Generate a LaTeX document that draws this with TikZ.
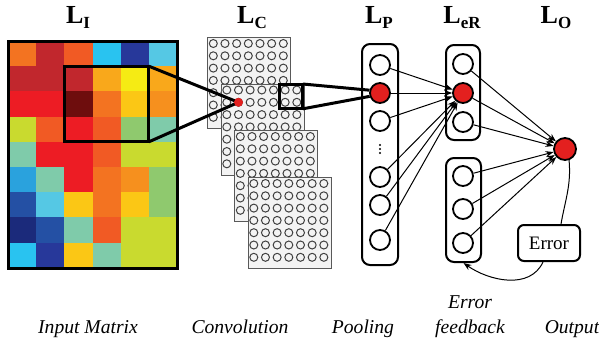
\documentclass[tikz,border=0pt]{standalone}
\usepackage{fontspec}
\setmainfont{Liberation Serif}
\usetikzlibrary{arrows.meta,positioning,calc}
\definecolor{navyc}{HTML}{1B2A7B}
\definecolor{bluec}{HTML}{2450A4}
\definecolor{dbluec}{HTML}{27389A}
\definecolor{mbluec}{HTML}{2AA2DD}
\definecolor{lbluec}{HTML}{29C3F0}
\definecolor{cyanc}{HTML}{55C8E4}
\definecolor{tealc}{HTML}{7FCBAA}
\definecolor{greenc}{HTML}{8FC96E}
\definecolor{ygreenc}{HTML}{C9DA2F}
\definecolor{yellowc}{HTML}{F5EB14}
\definecolor{yorangec}{HTML}{FBC715}
\definecolor{amberc}{HTML}{F9A81B}
\definecolor{orangec}{HTML}{F6901E}
\definecolor{dorangec}{HTML}{F37321}
\definecolor{redoc}{HTML}{F15A24}
\definecolor{redc}{HTML}{ED1C24}
\definecolor{dredc}{HTML}{C1272D}
\definecolor{maroonc}{HTML}{6E0D0D}
\definecolor{nred}{HTML}{E3201F}
\definecolor{mapc}{HTML}{F3F3F3}
\tikzset{
  ttl/.style={font=\fontsize{13}{14}\selectfont\bfseries, anchor=base, inner sep=0pt},
  capt/.style={font=\fontsize{9.8}{12.5}\selectfont\itshape, anchor=base, inner sep=0pt, align=center},
  win/.style={draw, line width=1.5pt, inner sep=0pt, outer sep=0pt, anchor=north west},
  fmap/.style={draw=black!65, fill=mapc, line width=0.5pt, inner sep=0pt, anchor=north west, minimum width=41.5pt, minimum height=45.5pt},
  cell/.style={draw=black!75, circle, line width=0.5pt, inner sep=0pt, minimum size=4pt},
  neur/.style={draw, circle, line width=0.9pt, inner sep=0pt, minimum size=10pt},
  grp/.style={draw, rounded corners=4pt, line width=1pt, inner sep=0pt},
  arr/.style={-{Stealth[length=4pt,width=3pt]}, line width=0.5pt},
  zoomln/.style={line width=1.5pt},
}
\newcommand{\lyr}[1]{L\raisebox{-0.45ex}{\fontsize{8.5}{9}\selectfont #1}}

\begin{document}
\begin{tikzpicture}[x=0.5pt,y=-0.5pt]
  \useasboundingbox (0,0) rectangle (599,344);
  \node[ttl] (tI) at (78,23) {\lyr{I}};
  \node[ttl] (tC) at (252,23) {\lyr{C}};
  \node[ttl] (tP) at (379,23) {\lyr{P}};
  \node[ttl] (tR) at (462,23) {\lyr{eR}};
  \node[ttl] (tO) at (556,23) {\lyr{O}};

  \foreach \row [count=\r from 0] in {
      {dorangec,dredc,redoc,lbluec,dbluec,cyanc},
      {dredc,dredc,dredc,amberc,yellowc,amberc},
      {redc,redc,maroonc,dorangec,yorangec,orangec},
      {ygreenc,redoc,redc,redoc,greenc,tealc},
      {tealc,redc,redc,redoc,ygreenc,ygreenc},
      {mbluec,tealc,redc,dorangec,orangec,greenc},
      {bluec,cyanc,yorangec,dorangec,yorangec,greenc},
      {navyc,bluec,tealc,redoc,ygreenc,ygreenc},
      {lbluec,dbluec,yorangec,tealc,ygreenc,ygreenc}} {
    \foreach \col [count=\c from 0] in \row
      \fill[fill=\col] (8+28.17*\c,41+25.2*\r) rectangle ++(28.17,25.2);
  }
  \node[win, minimum width=84.5pt, minimum height=113.5pt] (inmat) at (8,41) {};
  \node[win, minimum width=42.3pt, minimum height=37.8pt] (win1) at (64.3,66.2) {};

  \foreach \k/\mx/\my in {1/207/37,2/220.5/83.5,3/234/130,4/247.5/177} {
    \node[fmap] (map\k) at (\mx,\my) {};
    \foreach \i in {0,...,6}
      \foreach \j in {0,...,6}
        \node[cell] at (\mx+6.3+11.67*\i,\my+6.5+12.3*\j) {};
  }
  \coordinate (cdot) at (238.5,102.3);
  \node[win, minimum width=11.8pt, minimum height=12.4pt] (win2) at (279.2,84) {};
  \draw[zoomln] (win1.north east) -- (cdot) (win1.south east) -- (cdot);
  \node[circle, fill=nred, inner sep=0pt, minimum size=4.5pt] (rdot) at (cdot) {};

  \node[grp, minimum width=18pt, minimum height=110.5pt] (poolbox) at (380,154.5) {};
  \foreach \n/\y in {1/65,3/121,5/177,6/205,7/240}
    \node[neur] (p\n) at (380,\y) {};
  \node[neur, fill=nred] (p2) at (380,93) {};
  \coordinate (pdots) at (380,149);
  \foreach \d in {-4,0,4}
    \fill ($(pdots)+(0,\d)$) circle (0.6pt);
  \draw[zoomln] (win2.north east) -- (p2.165) (win2.south east) -- (p2.198);

  \node[grp, minimum width=17pt, minimum height=47.5pt] (upR) at (463,92.5) {};
  \node[grp, minimum width=17.5pt, minimum height=52pt] (lowR) at (463.5,210) {};
  \foreach \n/\y in {1/64,3/122,4/176,5/209,6/243}
    \node[neur] (e\n) at (463,\y) {};
  \node[neur, fill=nred] (e2) at (463,93) {};
  \node[neur, fill=nred, minimum size=11pt] (out) at (565,149) {};
  \node[draw, rounded corners=3pt, line width=1pt, minimum width=31pt, minimum height=18pt, inner sep=0pt, font=\fontsize{9.5}{10}\selectfont] (err) at (549,243) {Error};

  \foreach \n in {1,2,3,5,6,7}
    \draw[arr] (p\n) -- (e2);
  \foreach \n in {1,...,6}
    \draw[arr] (e\n) -- (out);
  \draw[line width=0.5pt] (out.-70) to[out=-85,in=80] ([xshift=6pt]err.north);
  \draw[arr] ([xshift=-3pt]err.south) to[out=-115,in=-35] (lowR.south);

  \node[capt] (cI) at (88,333) {Input Matrix};
  \node[capt] (cC) at (240,333) {Convolution};
  \node[capt] (cP) at (363,333) {Pooling};
  \node[capt] (cR) at (470,333) {Error\\feedback};
  \node[capt] (cO) at (572,333) {Output};
\end{tikzpicture}
\end{document}
